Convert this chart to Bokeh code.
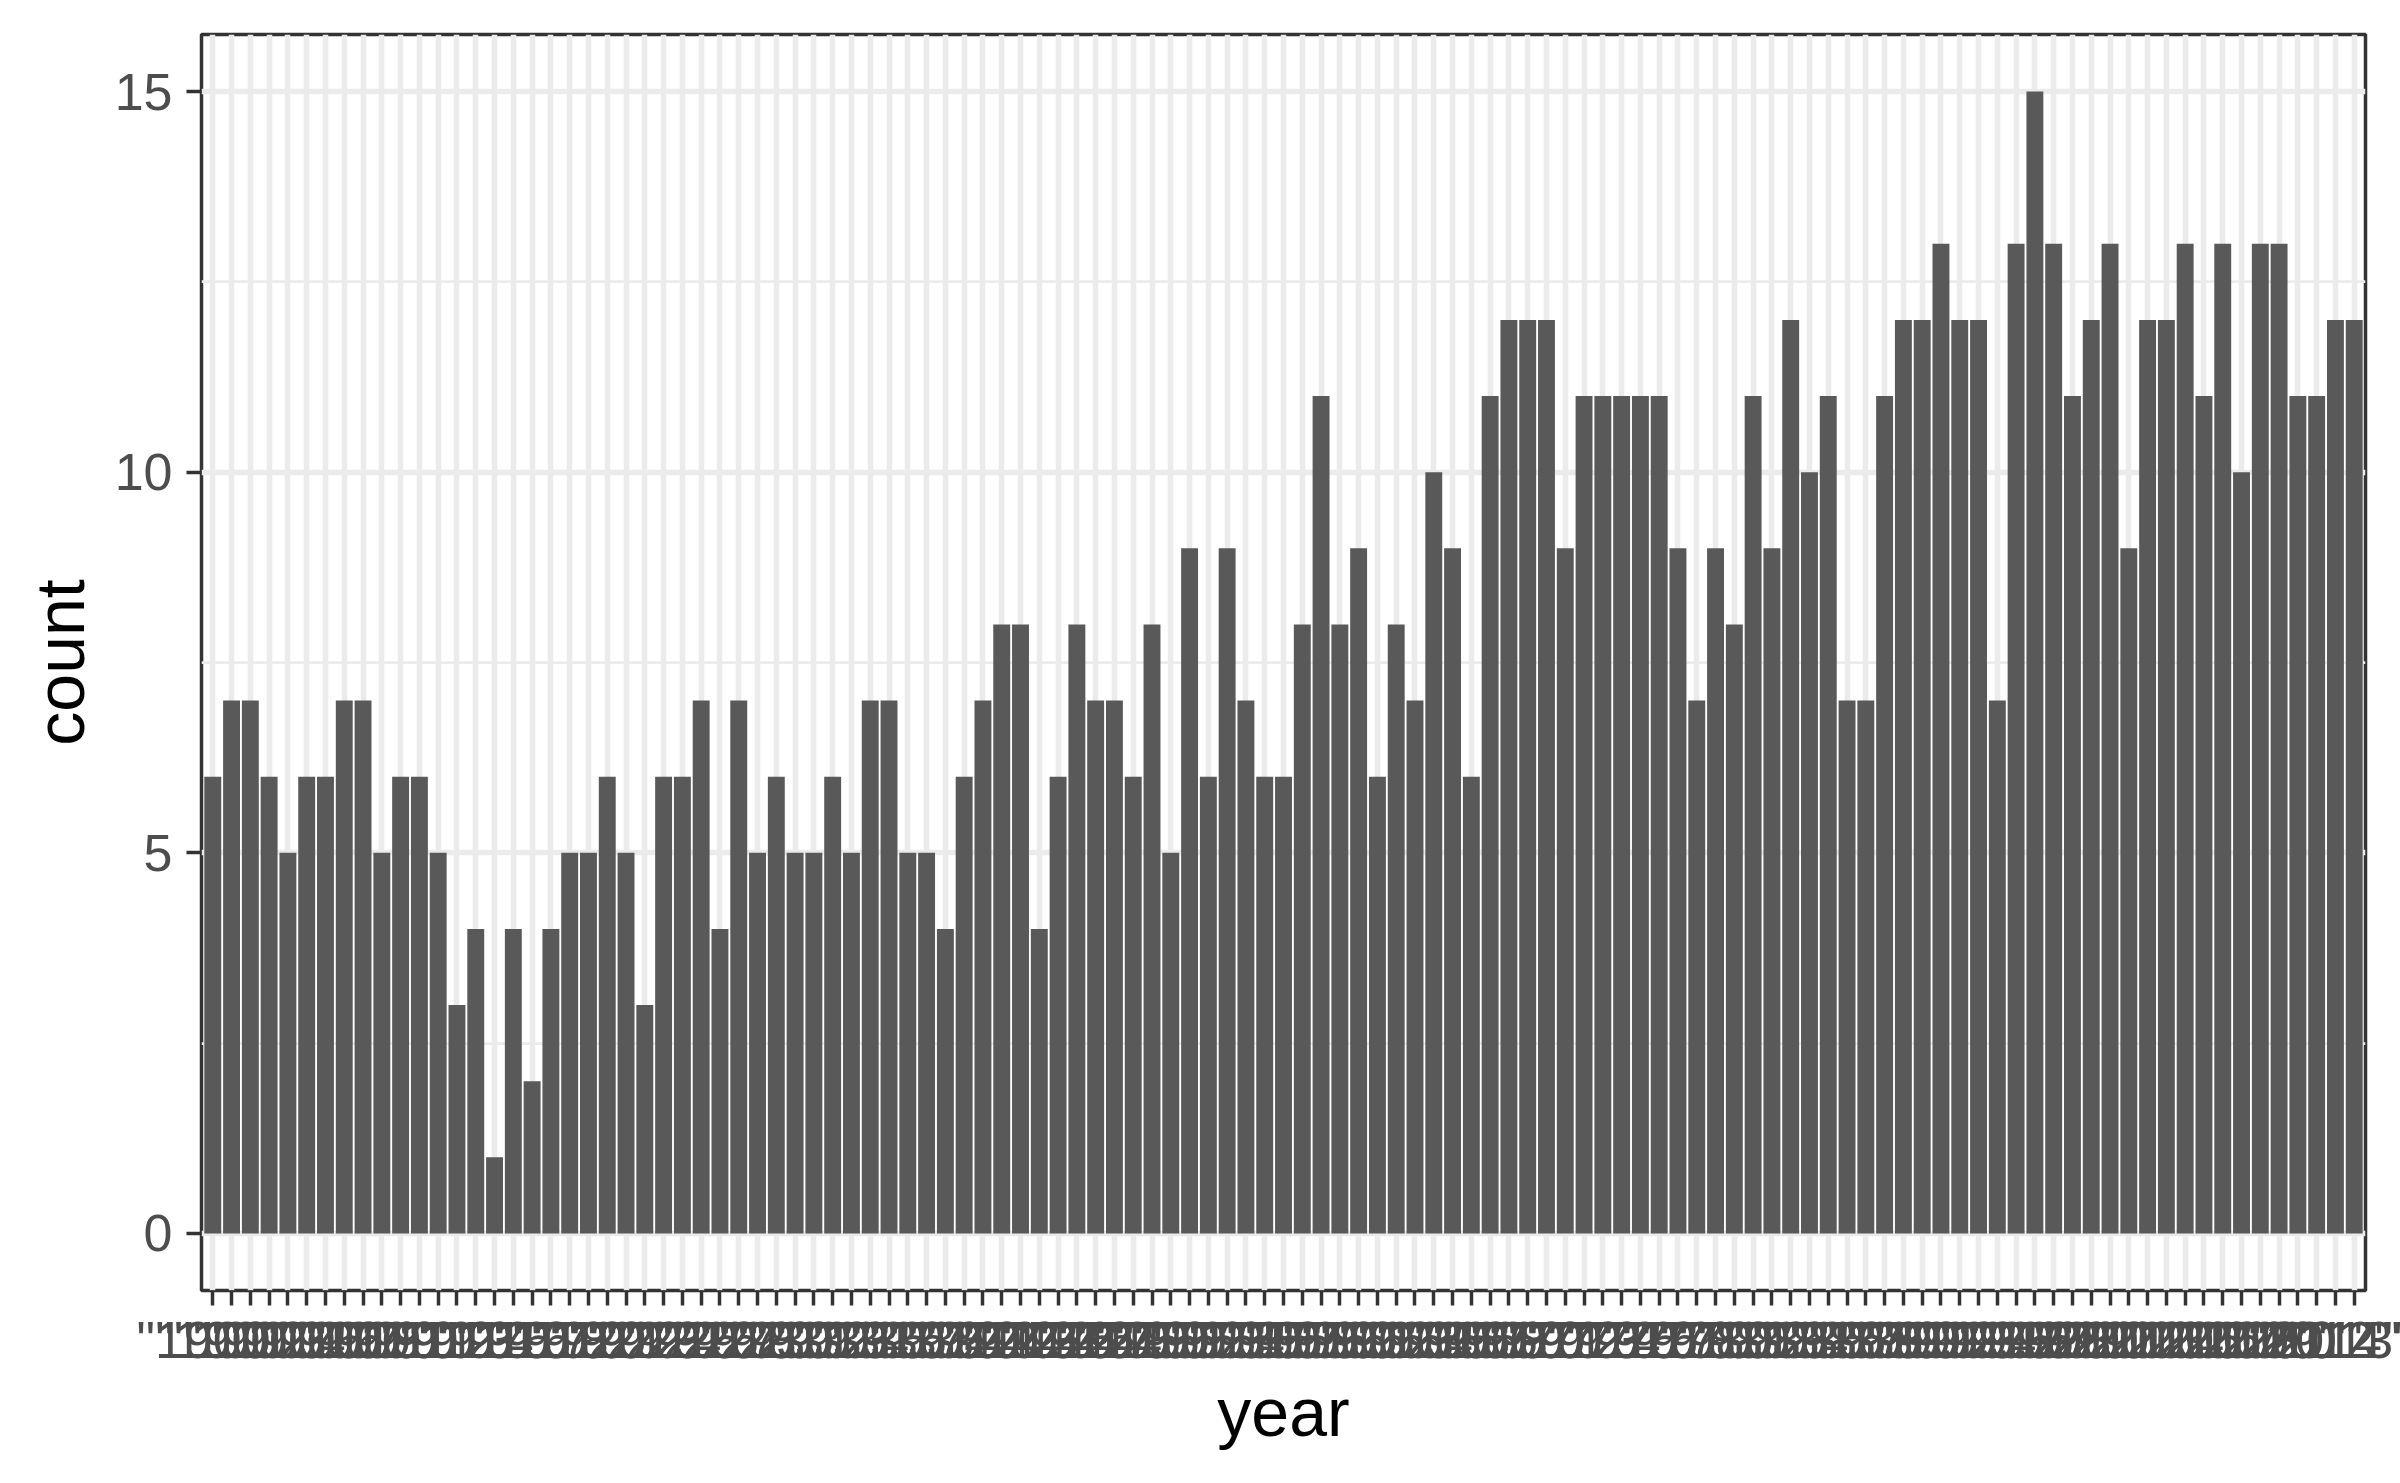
from bokeh.plotting import figure
from bokeh.models import Range1d, FixedTicker, ColumnDataSource
from bokeh.embed import file_html
from bokeh.resources import INLINE

# categories (x tick labels) and counts
years = ['"%d"' % y for y in range(1900, 2015)]
counts = [6, 7, 7, 6, 5, 6, 6, 7, 7, 5,
          6, 6, 5, 3, 4, 1, 4, 2, 4, 5,
          5, 6, 5, 3, 6, 6, 7, 4, 7, 5,
          6, 5, 5, 6, 5, 7, 7, 5, 5, 4,
          6, 7, 8, 8, 4, 6, 8, 7, 7, 6,
          8, 5, 9, 6, 9, 7, 6, 6, 8, 11,
          8, 9, 6, 8, 7, 10, 9, 6, 11, 12,
          12, 12, 9, 11, 11, 11, 11, 11, 9, 7,
          9, 8, 11, 9, 12, 10, 11, 7, 7, 11,
          12, 12, 13, 12, 12, 7, 13, 15, 13, 11,
          12, 13, 9, 12, 12, 13, 11, 13, 10, 13,
          13, 11, 11, 12, 12]
y_ticks = [0, 5, 10, 15]
y_minor = [2.5, 7.5, 12.5]

pos = list(range(1, len(years) + 1))
src = ColumnDataSource(dict(x=pos, top=counts, year=years))

FONT = "Liberation Sans"
W, H = 2400, 1483

p = figure(width=W, height=H, output_backend="svg", toolbar_location=None,
           x_range=Range1d(0.4, len(years) + 0.6), y_range=Range1d(-0.75, 15.75),
           min_border_left=201, min_border_right=W - 2365,
           min_border_top=34, min_border_bottom=H - 1290)

p.background_fill_color = "white"
p.border_fill_color = "white"
p.outline_line_color = "#333333"
p.outline_line_width = 3.5

p.vbar(x="x", top="top", bottom=0, width=0.9, source=src,
       fill_color="#595959", line_color=None)

# grids
p.xgrid.ticker = FixedTicker(ticks=pos)
p.xgrid.grid_line_color = "#EBEBEB"
p.xgrid.grid_line_width = 5.5
p.ygrid.ticker = FixedTicker(ticks=y_ticks, minor_ticks=y_minor)
p.ygrid.grid_line_color = "#EBEBEB"
p.ygrid.grid_line_width = 5.5
p.ygrid.minor_grid_line_color = "#EBEBEB"
p.ygrid.minor_grid_line_width = 2.75

# x axis
xa = p.xaxis[0]
xa.ticker = FixedTicker(ticks=pos)
xa.major_label_overrides = {i: s for i, s in zip(pos, years)}
xa.axis_label = "year"
# y axis
ya = p.yaxis[0]
ya.ticker = FixedTicker(ticks=y_ticks)
ya.axis_label = "count"

for ax in (xa, ya):
    ax.axis_line_color = None
    ax.major_tick_line_color = "#333333"
    ax.major_tick_line_width = 3.5
    ax.major_tick_out = 15
    ax.major_tick_in = 0
    ax.minor_tick_line_color = None
    ax.major_label_text_font = FONT
    ax.major_label_text_font_size = "52px"
    ax.major_label_text_color = "#4D4D4D"
    ax.axis_label_text_font = FONT
    ax.axis_label_text_font_size = "68px"
    ax.axis_label_text_font_style = "normal"
    ax.axis_label_text_color = "black"

xa.major_label_standoff = 5
xa.axis_label_standoff = 2
ya.major_label_standoff = 14
ya.axis_label_standoff = 14

open("out.html", "w").write(file_html(p, INLINE))
